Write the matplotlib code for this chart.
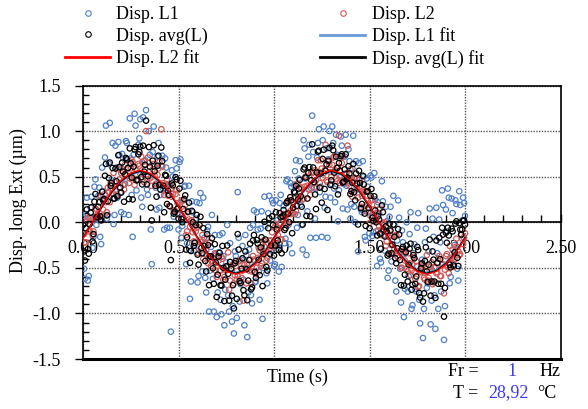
import numpy as np
import matplotlib
matplotlib.use("Agg")
import matplotlib.pyplot as plt
from matplotlib.lines import Line2D
from matplotlib.ticker import MultipleLocator, FormatStrFormatter

plt.rcParams['font.family'] = ['Liberation Serif', 'DejaVu Serif']

# time samples (s), two interleaved sets: on the 0.01 grid and half a step later
t = np.linspace(0, 2, 201)
t_b = np.linspace(0.005, 1.995, 200)

disp_l1 = [
    0.07, -0.62, 0.27, -0.59, 0.16, -0.28, 0.39, -0.03, 0.29, -0.16,
    0.60, 0.26, 1.06, 0.08, 1.09, 0.46, -0.02, 0.84, 0.27, 0.74,
    0.11, 0.70, 0.42, 0.87, 0.08, 0.70, -0.16, 1.19, 0.35, 0.85,
    1.13, 0.17, 0.67, 1.23, 0.30, 0.74, -0.46, 1.05, 0.38, 0.72,
    0.16, 0.62, 0.37, 0.70, -0.06, 0.42, -1.20, 0.50, 0.10, 0.59,
    -0.08, 0.69, -0.04, 0.39, -0.46, 0.12, -0.84, 0.23, -0.31, 0.04,
    -0.66, 0.21, -0.34, 0.27, -0.61, -0.09, -0.98, -0.27, -0.62, -0.14,
    -1.04, -0.33, -0.85, -0.12, -1.13, -0.44, -0.80, -0.23, -1.09, -1.22,
    -0.37, 0.33, -0.87, -0.41, -0.63, -0.14, -1.26, -0.30, -0.80, -0.03,
    -0.66, 0.11, -0.54, -0.07, -1.06, 0.28, -0.56, 0.10, -0.42, 0.24,
    -0.48, 0.24, -0.26, 0.21, -0.49, 0.18, -0.18, 0.47, -0.24, 0.39,
    0.10, 0.56, -0.06, 0.48, 0.19, -0.30, 0.81, -0.36, 0.72, -0.17,
    1.17, 0.38, -0.17, 0.87, 0.33, -0.16, 1.05, 0.28, -0.17, 1.00,
    0.42, 0.87, 0.22, 0.74, 0.35, 0.94, 0.15, 0.72, 0.40, 0.80,
    0.04, 0.59, 0.17, 0.67, -0.32, 0.39, 0.11, 0.50, -0.20, 0.39,
    -0.12, 0.49, -0.11, 0.25, -0.48, 0.10, -0.44, 0.23, -0.31, 0.01,
    -0.53, 0.17, -0.34, -0.03, -0.76, 0.24, -0.51, -0.09, -1.04, -0.34,
    -0.76, -0.13, -0.95, -0.34, -0.73, -0.06, -0.85, -0.46, -1.27, -0.22,
    -0.72, -0.32, -1.12, 0.04, -0.80, 0.16, -0.95, -0.22, 0.35, -1.29,
    0.14, 0.37, -0.67, 0.26, -0.46, 0.24, -0.51, 0.34, -0.14, 0.27,
    0.07,
]

disp_l1_b = [
    -0.51, 0.09, -0.64, 0.05, 0.28, -0.16, 0.47, 0.04, 0.38, -0.24,
    0.34, 0.71, 0.04, 0.64, 0.37, 0.87, 0.08, 0.60, 0.88, 0.33,
    0.75, 0.09, 0.89, 0.60, 1.14, 0.30, 0.74, 1.06, 0.47, 0.92,
    0.27, 1.15, 0.68, 0.36, 1.00, -0.08, 0.77, 0.61, 0.14, 0.87,
    0.30, 0.73, -0.08, 0.60, 0.40, -0.06, 0.57, 0.06, 0.68, 0.09,
    0.66, -0.17, 0.24, 0.40, -0.23, 0.40, -0.65, 0.11, -0.23, 0.22,
    -0.59, 0.32, -0.54, -0.17, -0.77, -0.05, -0.53, 0.08, -0.98, -0.35,
    -0.77, -0.14, -1.01, -0.37, -0.74, -0.03, -0.98, -0.51, -0.92, -0.32,
    -1.05, -0.17, -0.68, -0.26, -1.13, -0.36, -0.77, -0.06, -0.89, 0.13,
    -0.65, -0.08, -0.85, 0.12, -0.50, -0.04, -0.67, 0.29, -0.31, 0.21,
    -0.46, 0.02, -0.54, 0.30, 0.06, -0.23, 0.45, -0.03, 0.43, -0.34,
    0.41, 0.68, 0.08, 0.67, -0.03, 0.90, 0.48, 0.12, 0.85, 0.37,
    0.77, 0.04, 0.71, 1.02, 0.39, 0.90, 0.16, 0.81, 0.69, 0.27,
    1.05, 0.37, 0.96, 0.01, 0.70, 0.84, 0.42, 0.96, 0.14, 0.67,
    0.20, 0.95, 0.00, 0.48, 0.65, 0.14, 0.67, -0.16, 0.48, 0.11,
    0.51, -0.15, 0.54, -0.10, 0.22, -0.40, 0.45, -0.14, 0.17, -0.61,
    0.06, -0.43, 0.29, -0.64, -0.20, 0.05, -0.88, -0.22, -0.73, 0.00,
    -0.59, 0.11, -0.91, -0.24, -0.76, 0.10, -1.11, -0.41, -0.95, -0.07,
    -0.67, 0.15, -0.86, -0.16, -1.17, -0.34, 0.03, -0.76, 0.19, -0.92,
    -0.10, 0.27, -0.60, 0.10, -0.25, 0.20, -0.64, 0.19, 0.02, 0.21,
]

disp_l2 = [
    -0.13, -0.22, 0.01, -0.10, 0.05, -0.14, 0.06, 0.14, 0.05, 0.29,
    0.07, 0.25, 0.22, 0.38, 0.22, 0.40, 0.54, 0.34, 0.30, 0.47,
    0.54, 0.41, 0.63, 0.51, 0.43, 0.59, 0.66, 0.41, 0.57, 0.64,
    0.53, 0.66, 0.44, 1.00, 0.71, 0.48, 0.50, 0.64, 0.42, 0.52,
    0.66, 1.02, 0.43, 0.34, 0.46, 0.18, 0.37, 0.31, 0.13, 0.35,
    0.16, 0.22, 0.04, 0.12, -0.14, 0.11, -0.05, 0.02, -0.21, -0.10,
    -0.05, -0.27, -0.22, -0.40, -0.24, -0.17, -0.40, -0.48, -0.39, -0.34,
    -0.60, -0.42, -0.53, -0.40, -0.60, -0.53, -0.33, -0.64, -0.52, -0.67,
    -0.48, -0.59, -0.42, -0.61, -0.86, -0.50, -0.45, -0.53, -0.67, -0.37,
    -0.43, -0.50, -0.28, -0.48, -0.34, -0.27, -0.42, -0.23, -0.28, -0.11,
    -0.25, -0.02, -0.14, -0.01, -0.19, 0.09, 0.05, -0.01, 0.24, 0.09,
    0.22, 0.09, 0.42, 0.26, 0.38, 0.25, 0.39, 0.50, 0.36, 0.30,
    0.54, 0.50, 0.46, 0.68, 0.43, 0.59, 0.54, 0.85, 0.44, 0.63,
    0.50, 0.71, 0.57, 0.45, 0.95, 0.51, 0.72, 0.44, 0.54, 0.43,
    0.58, 0.28, 0.49, 0.40, 0.27, 0.47, 0.29, 0.33, 0.12, 0.29,
    -0.01, 0.24, 0.14, 0.01, 0.19, -0.04, -0.14, -0.01, 0.00, -0.21,
    -0.16, -0.35, -0.15, -0.29, -0.14, -0.39, -0.32, -0.50, -0.35, -0.32,
    -0.54, -0.45, -0.53, -0.38, -0.62, -0.48, -0.70, -0.55, -0.47, -0.63,
    -0.36, -0.61, -0.49, -0.68, -0.50, -0.56, -0.40, -0.59, -0.47, -0.78,
    -0.37, -0.49, -0.26, -0.40, -0.49, -0.27, -0.27, -0.36, -0.13, -0.24,
    -0.12,
]

disp_l2_b = [
    -0.13, -0.22, 0.05, -0.09, 0.05, -0.10, 0.15, 0.08, 0.06, 0.28,
    0.14, 0.31, 0.11, 0.33, 0.43, 0.32, 0.44, 0.30, 0.59, 0.43,
    0.56, 0.36, 0.52, 0.59, 0.48, 0.68, 0.48, 0.59, 0.46, 0.62,
    0.72, 0.53, 0.58, 0.47, 0.65, 0.40, 0.58, 0.51, 0.42, 0.59,
    0.42, 0.61, 0.30, 0.42, 0.29, 0.41, 0.28, 0.13, 0.31, 0.21,
    0.08, 0.24, 0.05, 0.19, -0.10, 0.03, 0.02, -0.11, -0.22, -0.06,
    -0.34, -0.20, -0.14, -0.35, -0.31, -0.45, -0.22, -0.43, -0.37, -0.53,
    -0.38, -0.53, -0.38, -0.63, -0.52, -0.48, -0.74, -0.51, -0.46, -0.58,
    -0.63, -0.43, -0.65, -0.53, -0.47, -0.67, -0.51, -0.41, -0.54, -0.41,
    -0.57, -0.39, -0.31, -0.45, -0.20, -0.34, -0.39, -0.20, -0.20, -0.27,
    -0.05, -0.18, -0.07, -0.19, 0.07, 0.06, -0.03, 0.22, 0.12, 0.10,
    0.26, 0.12, 0.42, 0.26, 0.37, 0.26, 0.50, 0.40, 0.36, 0.55,
    0.43, 0.57, 0.38, 0.55, 0.68, 0.49, 0.57, 0.46, 0.66, 0.55,
    0.63, 0.72, 0.48, 0.60, 0.43, 0.65, 0.47, 0.53, 0.84, 0.40,
    0.48, 0.33, 0.48, 0.37, 0.48, 0.17, 0.35, 0.35, 0.19, 0.20,
    0.07, 0.25, 0.03, 0.10, -0.09, 0.15, -0.08, -0.02, -0.26, -0.12,
    -0.09, -0.25, -0.34, -0.15, -0.37, -0.32, -0.50, -0.32, -0.42, -0.51,
    -0.34, -0.58, -0.46, -0.55, -0.43, -0.71, -0.54, -0.49, -0.61, -0.48,
    -0.64, -0.53, -0.44, -0.66, -0.49, -0.55, -0.37, -0.59, -0.46, -0.52,
    -0.35, -0.56, -0.39, -0.30, -0.41, -0.18, -0.32, -0.35, -0.18, -0.17,
]

# fitted curves, read every 0.05 s
t_fit = np.linspace(0, 2, 41)
fit_l1 = [-0.17, 0, 0.17, 0.32, 0.44, 0.52, 0.55, 0.52, 0.44, 0.32, 0.17, 0,
          -0.17, -0.32, -0.44, -0.52, -0.55, -0.52, -0.44, -0.32, -0.17, 0,
          0.17, 0.32, 0.44, 0.52, 0.55, 0.52, 0.44, 0.32, 0.17, 0,
          -0.17, -0.32, -0.44, -0.52, -0.55, -0.52, -0.44, -0.32, -0.17]
fit_l2 = [-0.18, 0, 0.18, 0.34, 0.46, 0.54, 0.57, 0.54, 0.46, 0.34, 0.18, 0,
          -0.18, -0.34, -0.46, -0.54, -0.57, -0.54, -0.46, -0.34, -0.18, 0,
          0.18, 0.34, 0.46, 0.54, 0.57, 0.54, 0.46, 0.34, 0.18, 0,
          -0.18, -0.34, -0.46, -0.54, -0.57, -0.54, -0.46, -0.34, -0.18]
fit_avg = [-0.17, 0, 0.17, 0.33, 0.45, 0.53, 0.56, 0.53, 0.45, 0.33, 0.17, 0,
           -0.17, -0.33, -0.45, -0.53, -0.56, -0.53, -0.45, -0.33, -0.17, 0,
           0.17, 0.33, 0.45, 0.53, 0.56, 0.53, 0.45, 0.33, 0.17, 0,
           -0.17, -0.33, -0.45, -0.53, -0.56, -0.53, -0.45, -0.33, -0.17]

t_all = np.concatenate([t, t_b])
l1_all = np.concatenate([disp_l1, disp_l1_b])
l2_all = np.concatenate([disp_l2, disp_l2_b])
avg_all = (l1_all + l2_all) / 2   # avg(L) = mean of the two sensors

c_l1 = '#5080c8'
c_l2 = '#cf5a56'
c_l1fit = '#6a9ad6'
c_blue_txt = '#3a3af5'

fig = plt.figure(figsize=(5.88, 4.09), dpi=100)
ax = fig.add_axes([83/588, 50/409, 477.5/588, 273.5/409])

ms = 15
ax.scatter(t_all, l1_all, s=ms, facecolors='none', edgecolors=c_l1, linewidths=0.9, zorder=3)
ax.scatter(t_all, l2_all, s=ms, facecolors='none', edgecolors=c_l2, linewidths=0.9, zorder=3.1)
ax.plot(t_fit, fit_l1, color=c_l1fit, lw=1.2, zorder=3.2)
ax.plot(t_fit, fit_avg, color='black', lw=1.0, zorder=3.2)
ax.scatter(t_all, avg_all, s=ms, facecolors='none', edgecolors='black', linewidths=0.9, zorder=3.4)
ax.plot(t_fit, fit_l2, color='red', lw=1.0, zorder=3.5)

ax.set_xlim(0, 2.5)
ax.set_ylim(-1.5, 1.5)
ax.xaxis.set_major_locator(MultipleLocator(0.5))
ax.xaxis.set_minor_locator(MultipleLocator(0.1))
ax.yaxis.set_major_locator(MultipleLocator(0.5))
ax.yaxis.set_minor_locator(MultipleLocator(0.1))
ax.xaxis.set_major_formatter(FormatStrFormatter('%.2f'))
ax.yaxis.set_major_formatter(FormatStrFormatter('%.1f'))

ax.spines['bottom'].set_position(('data', 0))
for s in ['bottom', 'left', 'top', 'right']:
    ax.spines[s].set_linewidth(1.2)
ax.plot([0, 2.5], [-1.5, -1.5], color='black', lw=2.2, clip_on=False, zorder=5)

ax.grid(True, which='major', color='#555555', linestyle=(0, (1, 1)), lw=1.0)
ax.set_axisbelow(True)

ax.tick_params(axis='x', which='major', direction='in', length=6, width=1,
               pad=13, labelsize=13)
ax.tick_params(axis='x', which='minor', direction='in', length=5, width=1)
ax.tick_params(axis='y', which='major', direction='out', length=6, width=1,
               pad=10, labelsize=13)
ax.tick_params(axis='y', which='minor', direction='in', length=4, width=1)

handles = [
    Line2D([], [], ls='none', marker='o', ms=4, mfc='none', mec=c_l1, mew=0.8),
    Line2D([], [], ls='none', marker='o', ms=4, mfc='none', mec='black', mew=0.8),
    Line2D([], [], color='red', lw=2),
    Line2D([], [], ls='none', marker='o', ms=4, mfc='none', mec=c_l2, mew=0.8),
    Line2D([], [], color=c_l1fit, lw=2),
    Line2D([], [], color='black', lw=2),
]
labels = ['Disp. L1', 'Disp. avg(L)', 'Disp. L2 fit',
          'Disp. L2', 'Disp. L1 fit', 'Disp. avg(L) fit']
fig.legend(handles, labels, ncol=2, loc='upper left',
           bbox_to_anchor=(65/588, 1 - 6/409), frameon=False, fontsize=13,
           handlelength=2.5, handletextpad=0.35, columnspacing=6.2,
           labelspacing=0.25, borderpad=0, borderaxespad=0)

fig.text(18/588, 1 - 201/409, 'Disp. long Ext (µm)', rotation=90,
         ha='center', va='center', fontsize=13)
fig.text(297/588, 1 - 377/409, 'Time (s)', ha='center', va='center', fontsize=13)

fig.text(448/588, 1 - 372/409, 'Fr =', ha='left', va='center', fontsize=13)
fig.text(512/588, 1 - 372/409, '1', ha='center', va='center', fontsize=13, color=c_blue_txt)
fig.text(540/588, 1 - 372/409, 'Hz', ha='left', va='center', fontsize=13)
fig.text(453/588, 1 - 393/409, 'T =', ha='left', va='center', fontsize=13)
fig.text(488/588, 1 - 393/409, '28,92', ha='left', va='center', fontsize=13, color=c_blue_txt)
fig.text(537/588, 1 - 393/409, '°C', ha='left', va='center', fontsize=13)

fig.savefig('out.png', dpi=100)
